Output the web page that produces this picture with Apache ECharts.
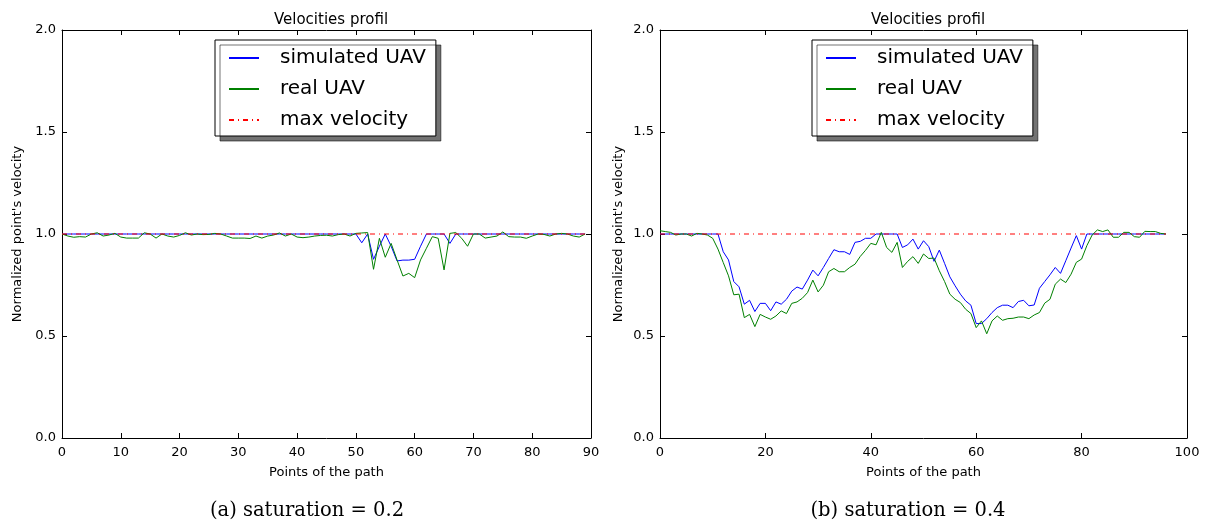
<!DOCTYPE html>
<html>
<head>
    <meta charset="utf-8">
    <title>Velocities profil</title>
    <script src="https://cdn.jsdelivr.net/npm/echarts@6/dist/echarts.min.js"></script>
    <style>
        html, body { margin: 0; padding: 0; background: #fff; }
        #chart { width: 1205px; height: 520px; }
    </style>
</head>
<body>
<div id="chart"></div>
<script>
    // (a) saturation = 0.2, points 0..89
    var leftSim = [
        1, 1, 1, 1, 1, 1, 1, 1, 1, 1,
        1, 1, 1, 1, 1, 1, 1, 1, 1, 1,
        1, 1, 1, 1, 1, 1, 1, 1, 1, 1,
        1, 1, 1, 1, 1, 1, 1, 1, 1, 1,
        1, 1, 1, 1, 1, 1, 1, 1, 1, 1,
        1, 0.957, 1, 0.876, 0.94, 1, 0.94, 0.868, 0.872, 0.872,
        0.876, 0.94, 1, 1, 1, 1, 0.954, 1, 1, 1,
        1, 1, 1, 1, 1, 1, 1, 1, 1, 1,
        1, 1, 1, 1, 1, 1, 1, 1, 1, 1
    ];
    var leftReal = [
        1.0, 0.99, 0.984, 0.987, 0.985, 1.0, 1.006, 0.99, 0.995, 1.003,
        0.985, 0.98, 0.98, 0.98, 1.006, 1.0, 0.98, 1.0, 0.99, 0.985,
        0.993, 1.006, 0.995, 1.0, 0.997, 0.998, 1.003, 1.0, 0.99, 0.98,
        0.98, 0.98, 0.978, 0.99, 0.98, 0.99, 0.995, 1.005, 0.99, 1.0,
        0.985, 0.982, 0.985, 0.99, 0.993, 0.994, 0.99, 0.997, 1.0, 0.99,
        1.003, 1.005, 1.007, 0.827, 0.979, 0.886, 0.954, 0.873, 0.794, 0.807,
        0.786, 0.873, 0.93, 0.987, 0.979, 0.824, 1.003, 1.007, 0.979, 0.94,
        1.0, 1.0, 0.98, 0.985, 0.99, 1.01, 0.987, 0.985, 0.985, 0.979,
        0.99, 1.0, 0.998, 0.99, 1.0, 1.003, 1.0, 0.99, 0.985, 1.0
    ];
    var leftMaxX = [0, 89];
    var leftMax = [1.0, 1.0];

    // (b) saturation = 0.4, points 0..96
    var rightSim = [
        1, 1, 1, 1, 1, 1, 1, 1, 1, 1,
        1, 1, 0.913, 0.873, 0.767, 0.741, 0.656, 0.675, 0.62, 0.66,
        0.66, 0.624, 0.667, 0.656, 0.68, 0.72, 0.74, 0.73, 0.774, 0.823,
        0.795, 0.836, 0.88, 0.923, 0.913, 0.913, 0.9, 0.959, 0.964, 0.979,
        0.979, 1, 1, 1, 1, 1, 0.934, 0.947, 0.975, 0.926,
        0.967, 0.938, 0.866, 0.921, 0.856, 0.79, 0.746, 0.705, 0.672, 0.651,
        0.561, 0.561, 0.585, 0.615, 0.639, 0.651, 0.651, 0.639, 0.669, 0.675,
        0.648, 0.652, 0.734, 0.767, 0.8, 0.836, 0.807, 0.869, 0.931, 0.992,
        0.926, 1, 1, 1, 1, 1, 1, 1, 1, 1,
        1, 1, 1, 1, 1, 1, 1
    ];
    var rightReal = [
        1.016, 1.012, 1.008, 0.995, 1.0, 1.0, 0.99, 1.003, 1.0, 0.995,
        0.979, 0.926, 0.86, 0.795, 0.702, 0.705, 0.59, 0.606, 0.546, 0.606,
        0.593, 0.582, 0.598, 0.623, 0.61, 0.66, 0.667, 0.685, 0.713, 0.774,
        0.716, 0.749, 0.815, 0.831, 0.815, 0.815, 0.836, 0.852, 0.89, 0.92,
        0.954, 0.947, 1.008, 0.934, 0.91, 0.959, 0.836, 0.866, 0.889, 0.856,
        0.902, 0.88, 0.882, 0.82, 0.767, 0.705, 0.68, 0.664, 0.631, 0.61,
        0.541, 0.574, 0.511, 0.574, 0.598, 0.577, 0.585, 0.587, 0.593, 0.593,
        0.585, 0.603, 0.615, 0.661, 0.68, 0.754, 0.779, 0.762, 0.803, 0.861,
        0.877, 0.943, 0.995, 1.02, 1.012, 1.02, 0.984, 0.984, 1.008, 1.008,
        0.987, 0.984, 1.013, 1.012, 1.012, 1.003, 1.0
    ];
    var rightMaxX = [0, 96];
    var rightMax = [1.0, 1.0];

    var names = ['simulated UAV', 'real UAV', 'max velocity'];
    var yTicks = { min: 0, max: 2, interval: 0.5 };

    function pairs(ys, xs) {
        return ys.map(function (v, i) { return [xs ? xs[i] : i, v]; });
    }

    var font = 'DejaVu Sans';
    var tick = { show: true, inside: true, length: 5, lineStyle: { color: '#000', width: 1 } };
    var line = { show: true, onZero: false, lineStyle: { color: '#000', width: 1 } };

    function xAx(grid, max, step, top) {
        return {
            type: 'value', gridIndex: grid, min: 0, max: max, interval: step,
            position: top ? 'top' : 'bottom',
            axisLine: line, axisTick: tick, splitLine: { show: false },
            axisLabel: { show: !top, color: '#000', fontFamily: font, fontSize: 13, margin: 8 },
            name: top ? '' : 'Points of the path', nameLocation: 'middle', nameGap: 28,
            nameTextStyle: { color: '#000', fontFamily: font, fontSize: 13 }
        };
    }
    function yAx(grid, right, gap) {
        return {
            type: 'value', gridIndex: grid, min: yTicks.min, max: yTicks.max, interval: yTicks.interval,
            position: right ? 'right' : 'left',
            axisLine: line, axisTick: tick, splitLine: { show: false },
            axisLabel: {
                show: !right, color: '#000', fontFamily: font, fontSize: 13, margin: 6,
                formatter: function (v) { return v.toFixed(1); }
            },
            name: right ? '' : "Normalized point's velocity", nameLocation: 'middle', nameGap: gap,
            nameTextStyle: { color: '#000', fontFamily: font, fontSize: 13 }
        };
    }
    function legend(left) {
        return {
            left: left, top: 40, orient: 'vertical',
            data: names,
            itemWidth: 30, itemHeight: 20, itemGap: 11,
            padding: [8, 10, 6, 13],
            backgroundColor: '#fff', borderColor: '#000', borderWidth: 1, borderRadius: 0,
            shadowColor: 'rgba(0,0,0,0.55)', shadowOffsetX: 5, shadowOffsetY: 5, shadowBlur: 0,
            itemStyle: { opacity: 0 },
            textStyle: { color: '#000', fontFamily: font, fontSize: 20, lineHeight: 20, padding: [0, 0, 0, 16] },
            selectedMode: false
        };
    }
    function series(xi, sim, real, maxX, maxV) {
        return [
            { name: names[0], type: 'line', xAxisIndex: xi, yAxisIndex: xi, data: pairs(sim),
              symbol: 'none', lineStyle: { color: '#0000ff', width: 1 }, itemStyle: { color: '#0000ff' } },
            { name: names[1], type: 'line', xAxisIndex: xi, yAxisIndex: xi, data: pairs(real),
              symbol: 'none', lineStyle: { color: '#008000', width: 1 }, itemStyle: { color: '#008000' } },
            { name: names[2], type: 'line', xAxisIndex: xi, yAxisIndex: xi, data: pairs(maxV, maxX),
              symbol: 'none', lineStyle: { color: '#ff0000', width: 1, type: [5, 4, 1, 4] }, itemStyle: { color: '#ff0000' } }
        ];
    }

    var chart = echarts.init(document.getElementById('chart'));
    chart.setOption({
        animation: false,
        backgroundColor: '#fff',
        title: [
            { text: 'Velocities profil', left: 326, top: 8, textAlign: 'center',
              textStyle: { fontFamily: font, fontSize: 15, fontWeight: 'normal', color: '#000' } },
            { text: 'Velocities profil', left: 923, top: 8, textAlign: 'center',
              textStyle: { fontFamily: font, fontSize: 15, fontWeight: 'normal', color: '#000' } },
            { text: '(a) saturation = 0.2', left: 302, top: 496, textAlign: 'center',
              textStyle: { fontFamily: 'DejaVu Serif', fontSize: 19.5, fontWeight: 'normal', color: '#000' } },
            { text: '(b) saturation = 0.4', left: 903, top: 496, textAlign: 'center',
              textStyle: { fontFamily: 'DejaVu Serif', fontSize: 19.5, fontWeight: 'normal', color: '#000' } }
        ],
        legend: [legend(215), legend(812)],
        grid: [
            { left: 62, right: 614, top: 30, bottom: 82 },
            { left: 660, right: 18, top: 30, bottom: 82 }
        ],
        xAxis: [xAx(0, 90, 10, false), xAx(0, 90, 10, true), xAx(1, 100, 20, false), xAx(1, 100, 20, true)],
        yAxis: [yAx(0, false, 38), yAx(0, true, 0), yAx(1, false, 35), yAx(1, true, 0)],
        series: [].concat(
            series(0, leftSim, leftReal, leftMaxX, leftMax),
            series(2, rightSim, rightReal, rightMaxX, rightMax)
        )
    });
</script>
</body>
</html>
